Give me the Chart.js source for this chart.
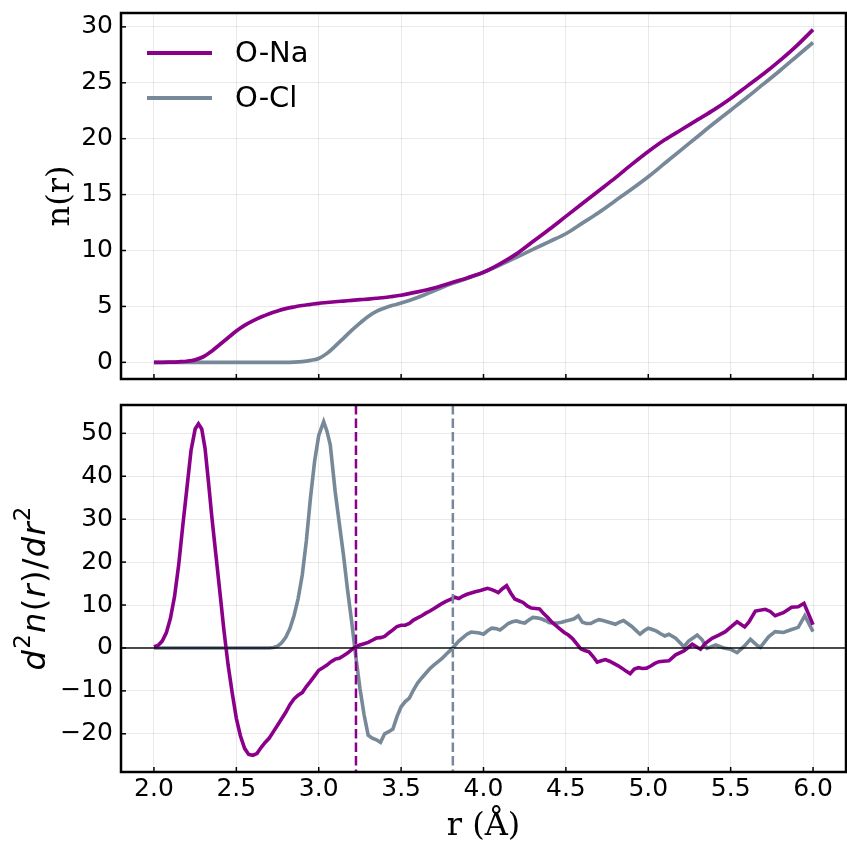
<!DOCTYPE html>
<html lang="en">
<head>
    <meta charset="UTF-8">
    <title>n(r) and d2n(r)/dr2</title>
    <script src="https://cdn.jsdelivr.net/npm/chart.js"></script>
    <style>
        body {
            margin: 0;
            background: #ffffff;
        }
        .wrap {
            position: relative;
            width: 847px;
            height: 846px;
        }
        .panel {
            position: absolute;
            left: 0;
            width: 847px;
        }
        #topPanel { top: 0; height: 395px; }
        #bottomPanel { top: 395px; height: 451px; }
    </style>
</head>
<body>
    <div class="wrap">
        <div class="panel" id="topPanel"><canvas id="nChart"></canvas></div>
        <div class="panel" id="bottomPanel"><canvas id="d2Chart"></canvas></div>
    </div>

    <script>
        // ---- data ----
        const seriesNames = ['O-Na', 'O-Cl'];

        // running coordination number n(r)
        const rTop = [2.0, 2.05, 2.1, 2.15, 2.2, 2.25, 2.3, 2.35, 2.4, 2.45, 2.5, 2.55, 2.6, 2.65, 2.7, 2.75,
            2.8, 2.85, 2.9, 2.95, 3.0, 3.05, 3.1, 3.15, 3.2, 3.25, 3.3, 3.35, 3.4, 3.45, 3.5,
            3.6, 3.7, 3.8, 3.9, 4.0, 4.1, 4.2, 4.3, 4.4, 4.5, 4.6, 4.7, 4.8, 4.9, 5.0,
            5.1, 5.2, 5.3, 5.4, 5.5, 5.6, 5.7, 5.8, 5.9, 6.0];
        const nNa = [0, 0, 0.02, 0.05, 0.1, 0.22, 0.5, 1.0, 1.6, 2.2, 2.8, 3.3, 3.7, 4.05, 4.35, 4.6,
            4.8, 4.95, 5.08, 5.18, 5.28, 5.35, 5.42, 5.48, 5.54, 5.6, 5.66, 5.73, 5.8, 5.9, 6.0,
            6.3, 6.65, 7.1, 7.55, 8.05, 8.8, 9.7, 10.8, 11.9, 13.05, 14.2, 15.35, 16.5, 17.7, 18.85,
            19.9, 20.8, 21.7, 22.6, 23.6, 24.7, 25.8, 27.0, 28.3, 29.75];
        const nCl = [0, 0, 0, 0, 0, 0, 0, 0, 0, 0, 0, 0, 0, 0, 0, 0,
            0, 0.02, 0.07, 0.18, 0.35, 0.8, 1.45, 2.15, 2.85, 3.5, 4.1, 4.55, 4.85, 5.1, 5.3,
            5.8, 6.4, 7.0, 7.5, 8.05, 8.7, 9.4, 10.1, 10.8, 11.5, 12.45, 13.4, 14.45, 15.5, 16.6,
            17.8, 19.0, 20.2, 21.4, 22.55, 23.7, 24.9, 26.1, 27.35, 28.6];

        // second derivative d2n/dr2
        const rNaD2 = [2.0, 2.025, 2.05, 2.075, 2.1, 2.125, 2.15, 2.175, 2.2, 2.225, 2.25, 2.27, 2.29, 2.31, 2.33,
            2.35, 2.375, 2.4, 2.425, 2.45, 2.475, 2.5, 2.525, 2.55, 2.575, 2.6, 2.625, 2.65, 2.675, 2.7,
            2.725, 2.75, 2.775, 2.8, 2.825, 2.85, 2.875, 2.9, 2.925, 2.95, 2.975, 3.0, 3.025, 3.05, 3.075,
            3.1, 3.125, 3.15, 3.175, 3.2, 3.225, 3.25, 3.275, 3.3, 3.325, 3.35, 3.375, 3.4, 3.425, 3.45,
            3.475, 3.5, 3.525, 3.55, 3.575, 3.6, 3.625, 3.65, 3.675, 3.7, 3.725, 3.75, 3.775, 3.8, 3.825,
            3.85, 3.875, 3.9, 3.925, 3.95, 3.975, 4.0, 4.025, 4.05, 4.075, 4.09, 4.115, 4.14, 4.165, 4.19,
            4.215, 4.24, 4.265, 4.29, 4.315, 4.34, 4.365, 4.39, 4.415, 4.44, 4.465, 4.49, 4.515, 4.54, 4.565,
            4.59, 4.615, 4.64, 4.665, 4.69, 4.715, 4.74, 4.765, 4.79, 4.815, 4.84, 4.865, 4.89, 4.915, 4.94,
            4.965, 4.99, 5.015, 5.04, 5.065, 5.09, 5.125, 5.166, 5.216, 5.267, 5.297, 5.317, 5.347, 5.387, 5.428,
            5.468, 5.498, 5.539, 5.585, 5.61, 5.65, 5.71, 5.74, 5.77, 5.82, 5.87, 5.91, 5.945, 6.0];
        const d2Na = [0.3, 0.6, 1.6, 3.5, 6.9, 12.0, 19.3, 28.5, 37.2, 46.0, 51.0, 52.2, 51.0, 46.5, 39.0,
            31.0, 22.0, 13.1, 4.0, -4.0, -10.5, -16.4, -20.5, -23.4, -24.8, -25.0, -24.6, -23.2, -22.0, -21.0,
            -19.5, -18.0, -16.5, -15.0, -13.2, -11.9, -11.0, -10.4, -9.0, -7.8, -6.5, -5.2, -4.6, -4.0, -3.2,
            -2.6, -2.4, -1.8, -1.2, -0.4, 0.3, 0.7, 1.0, 1.3, 1.8, 2.3, 2.4, 2.7, 3.5, 4.2,
            5.0, 5.3, 5.3, 5.7, 6.5, 7.0, 7.5, 8.1, 8.6, 9.2, 9.8, 10.4, 10.9, 11.3, 11.8,
            11.5, 12.1, 12.5, 12.8, 13.1, 13.3, 13.6, 13.9, 13.6, 13.2, 12.9, 13.8, 14.5, 12.8, 11.4,
            11.0, 10.6, 9.8, 9.3, 9.2, 9.1, 8.0, 7.1, 6.0, 5.2, 4.4, 3.6, 3.0, 2.2, 1.0,
            -0.2, -0.6, -0.9, -2.0, -3.3, -3.0, -2.7, -3.1, -3.6, -4.1, -4.7, -5.4, -6.0, -4.9, -4.6,
            -4.8, -4.7, -4.2, -3.6, -3.2, -3.1, -3.0, -1.6, -0.7, 0.85, 0.15, -0.3, 1.1, 2.25, 3.0,
            3.8, 4.8, 6.1, 4.9, 6.0, 8.6, 9.0, 8.5, 7.5, 8.2, 9.5, 9.6, 10.4, 5.4];

        const rClD2 = [2.0, 2.7, 2.725, 2.75, 2.775, 2.8, 2.825, 2.85, 2.875, 2.9, 2.925, 2.95, 2.975, 3.0, 3.03,
            3.05, 3.07, 3.1, 3.125, 3.15, 3.175, 3.2, 3.225, 3.25, 3.275, 3.3, 3.325, 3.35, 3.375, 3.4,
            3.425, 3.45, 3.475, 3.5, 3.525, 3.55, 3.575, 3.6, 3.625, 3.65, 3.675, 3.7, 3.725, 3.75, 3.775,
            3.8, 3.825, 3.85, 3.875, 3.9, 3.925, 3.95, 3.975, 4.0, 4.025, 4.05, 4.075, 4.1, 4.125, 4.15,
            4.175, 4.2, 4.225, 4.25, 4.275, 4.3, 4.325, 4.35, 4.375, 4.4, 4.425, 4.45, 4.475, 4.5, 4.525,
            4.55, 4.575, 4.6, 4.625, 4.65, 4.675, 4.7, 4.725, 4.75, 4.775, 4.8, 4.825, 4.85, 4.875, 4.9,
            4.925, 4.95, 4.975, 5.0, 5.025, 5.05, 5.075, 5.1, 5.125, 5.166, 5.216, 5.245, 5.297, 5.327, 5.357,
            5.41, 5.458, 5.498, 5.539, 5.58, 5.62, 5.66, 5.68, 5.73, 5.77, 5.82, 5.87, 5.91, 5.95, 6.0];
        const d2Cl = [0, 0, 0.1, 0.4, 1.2, 2.5, 4.5, 7.5, 11.5, 17.0, 25.0, 35.0, 43.5, 49.5, 52.7,
            50.5, 47.3, 36.4, 29.0, 21.7, 13.5, 6.1, -2.0, -9.4, -15.5, -20.3, -21.0, -21.4, -22.0, -20.0,
            -19.5, -18.9, -16.0, -13.7, -12.5, -11.7, -9.8, -8.2, -7.0, -5.9, -4.8, -3.95, -3.2, -2.4, -1.4,
            -0.5, 0.5, 1.6, 2.4, 3.2, 3.7, 3.6, 3.5, 3.2, 4.0, 4.6, 4.5, 4.2, 4.9, 5.7,
            6.1, 6.3, 6.0, 5.8, 6.5, 7.1, 7.0, 6.8, 6.4, 5.9, 5.8, 5.8, 6.0, 6.3, 6.5,
            6.8, 7.5, 6.0, 5.7, 5.7, 6.2, 6.6, 6.4, 6.1, 5.8, 5.5, 6.0, 6.4, 5.7, 5.0,
            4.1, 3.2, 4.0, 4.6, 4.3, 3.9, 3.3, 2.8, 3.2, 2.25, 0.3, 1.6, 3.0, 1.9, -0.1,
            0.7, 0.0, -0.3, -1.1, 0.3, 2.0, 0.6, 0.15, 2.6, 3.8, 3.6, 4.3, 4.8, 7.5, 3.8];

        // shell cut-offs (zero crossings of d2n/dr2), O-Na then O-Cl
        const cutoffs = [3.226, 3.814];

        const rTicks = [2.0, 2.5, 3.0, 3.5, 4.0, 4.5, 5.0, 5.5, 6.0];
        const nTicks = [0, 5, 10, 15, 20, 25, 30];
        const d2Ticks = [-20, -10, 0, 10, 20, 30, 40, 50];

        // ---- styling ----
        const colors = ['#8b008b', '#778899'];
        const tickFont = { family: 'DejaVu Sans', size: 25 };
        const gridColor = 'rgba(0, 0, 0, 0.085)';

        function toPoints(xs, ys) {
            return xs.map((x, i) => ({ x: x, y: ys[i] }));
        }

        function minusSign(v) {
            return String(v).replace('-', '\u2212');
        }

        // keep the plot area where it is, whatever the tick labels want
        function noPadding(s) {
            s.paddingTop = 0;
            s.paddingBottom = 0;
            s.paddingLeft = 0;
            s.paddingRight = 0;
        }

        // d^2 n(r) / dr^2 written with real superscripts, rotated
        function drawMathLabel(ctx, x, y) {
            const big = 32, small = 23, raise = 15, gap = 1.3;
            const parts = [
                ['d', 'italic', big, 0], ['2', 'normal', small, raise], ['n', 'italic', big, 0],
                ['(', 'normal', big, 0], ['r', 'italic', big, 0], [')', 'normal', big, 0],
                ['/', 'normal', big, 0], ['d', 'italic', big, 0], ['r', 'italic', big, 0],
                ['2', 'normal', small, raise]
            ];
            const fontOf = p => p[1] + ' ' + p[2] + 'px "DejaVu Sans"';
            let total = 0;
            parts.forEach(p => {
                ctx.font = fontOf(p);
                total += ctx.measureText(p[0]).width + gap;
            });
            total -= gap;
            ctx.save();
            ctx.translate(x, y);
            ctx.rotate(-Math.PI / 2);
            ctx.fillStyle = '#000';
            ctx.textBaseline = 'alphabetic';
            let cx = -total / 2;
            parts.forEach(p => {
                ctx.font = fontOf(p);
                ctx.fillText(p[0], cx, -p[3]);
                cx += ctx.measureText(p[0]).width + gap;
            });
            ctx.restore();
        }

        // frame, inward ticks, zero line, cut-off lines and legend
        const decorPlugin = {
            id: 'decor',
            afterDatasetsDraw(chart, args, opts) {
                const { ctx, chartArea: a, scales } = chart;
                ctx.save();
                ctx.beginPath();
                ctx.rect(a.left, a.top, a.width, a.height);
                ctx.clip();
                if (opts.zeroLine) {
                    const y0 = scales.y.getPixelForValue(0);
                    ctx.strokeStyle = 'rgba(0, 0, 0, 0.7)';
                    ctx.lineWidth = 2;
                    ctx.beginPath();
                    ctx.moveTo(a.left, y0);
                    ctx.lineTo(a.right, y0);
                    ctx.stroke();
                }
                if (opts.cutoffs) {
                    ctx.lineWidth = 2.5;
                    ctx.setLineDash([9.5, 4]);
                    opts.cutoffs.forEach((r, i) => {
                        const x = scales.x.getPixelForValue(r);
                        ctx.strokeStyle = colors[i];
                        ctx.beginPath();
                        ctx.moveTo(x, a.top);
                        ctx.lineTo(x, a.bottom);
                        ctx.stroke();
                    });
                }
                ctx.restore();
            },
            afterDraw(chart, args, opts) {
                const { ctx, chartArea: a, scales } = chart;
                ctx.save();
                ctx.strokeStyle = '#000';
                ctx.lineWidth = 1.5;
                scales.x.ticks.forEach(t => {
                    const x = scales.x.getPixelForValue(t.value);
                    ctx.beginPath();
                    ctx.moveTo(x, a.bottom);
                    ctx.lineTo(x, a.bottom - 5);
                    ctx.stroke();
                });
                scales.y.ticks.forEach(t => {
                    const y = scales.y.getPixelForValue(t.value);
                    ctx.beginPath();
                    ctx.moveTo(a.left, y);
                    ctx.lineTo(a.left + 5, y);
                    ctx.stroke();
                });
                ctx.lineWidth = 2.5;
                ctx.strokeRect(a.left, a.top, a.width, a.height);

                if (opts.legend) {
                    ctx.font = '29px "DejaVu Sans"';
                    ctx.textBaseline = 'middle';
                    ctx.fillStyle = '#000';
                    chart.data.datasets.forEach((ds, i) => {
                        const y = a.top + 40 + i * 45;
                        ctx.strokeStyle = ds.borderColor;
                        ctx.lineWidth = 4;
                        ctx.beginPath();
                        ctx.moveTo(a.left + 26, y);
                        ctx.lineTo(a.left + 91, y);
                        ctx.stroke();
                        ctx.fillText(ds.label, a.left + 114, y + 1);
                    });
                }
                if (opts.mathLabel) {
                    drawMathLabel(ctx, 45, (a.top + a.bottom) / 2);
                }
                ctx.restore();
            }
        };

        new Chart(document.getElementById('nChart'), {
            type: 'line',
            data: {
                datasets: [
                    { label: seriesNames[0], data: toPoints(rTop, nNa), borderColor: colors[0] },
                    { label: seriesNames[1], data: toPoints(rTop, nCl), borderColor: colors[1] }
                ]
            },
            options: {
                responsive: true,
                maintainAspectRatio: false,
                animation: false,
                layout: { padding: { top: 13, right: 1, left: 0, bottom: 0 } },
                elements: {
                    point: { radius: 0 },
                    line: { borderWidth: 3.7, cubicInterpolationMode: 'monotone' }
                },
                plugins: {
                    legend: { display: false },
                    tooltip: { enabled: false },
                    decor: { legend: true }
                },
                scales: {
                    x: {
                        type: 'linear',
                        min: 1.8,
                        max: 6.2,
                        afterBuildTicks: s => { s.ticks = rTicks.map(v => ({ value: v })); },
                        afterFit: s => { s.height = 16; noPadding(s); },
                        ticks: { display: false },
                        grid: { color: gridColor, drawTicks: false },
                        border: { display: false }
                    },
                    y: {
                        type: 'linear',
                        min: -1.49,
                        max: 31.24,
                        afterBuildTicks: s => { s.ticks = nTicks.map(v => ({ value: v })); },
                        afterFit: s => { s.width = 121; noPadding(s); },
                        ticks: { font: tickFont, color: '#000', padding: 8 },
                        grid: { color: gridColor, drawTicks: false },
                        border: { display: false },
                        title: {
                            display: true,
                            text: 'n(r)',
                            color: '#000',
                            font: { family: 'DejaVu Serif', size: 32 },
                            padding: { top: 41, bottom: 0 }
                        }
                    }
                }
            },
            plugins: [decorPlugin]
        });

        new Chart(document.getElementById('d2Chart'), {
            type: 'line',
            data: {
                datasets: [
                    { label: seriesNames[0], data: toPoints(rNaD2, d2Na), borderColor: colors[0] },
                    { label: seriesNames[1], data: toPoints(rClD2, d2Cl), borderColor: colors[1] }
                ]
            },
            options: {
                responsive: true,
                maintainAspectRatio: false,
                animation: false,
                layout: { padding: { top: 10, right: 1, left: 0, bottom: 0 } },
                elements: {
                    point: { radius: 0 },
                    line: { borderWidth: 3.6, tension: 0 }
                },
                plugins: {
                    legend: { display: false },
                    tooltip: { enabled: false },
                    decor: { zeroLine: true, cutoffs: cutoffs, mathLabel: true }
                },
                scales: {
                    x: {
                        type: 'linear',
                        min: 1.8,
                        max: 6.2,
                        afterBuildTicks: s => { s.ticks = rTicks.map(v => ({ value: v })); },
                        afterFit: s => { s.height = 74; noPadding(s); },
                        ticks: {
                            font: tickFont,
                            color: '#000',
                            padding: 2,
                            maxRotation: 0,
                            callback: v => v.toFixed(1)
                        },
                        grid: { color: gridColor, drawTicks: false },
                        border: { display: false },
                        title: {
                            display: true,
                            text: 'r (\u00c5)',
                            color: '#000',
                            font: { family: 'DejaVu Serif', size: 32 },
                            padding: { top: 0, bottom: 0 }
                        }
                    },
                    y: {
                        type: 'linear',
                        min: -28.9,
                        max: 56.6,
                        afterBuildTicks: s => { s.ticks = d2Ticks.map(v => ({ value: v })); },
                        afterFit: s => { s.width = 121; noPadding(s); },
                        ticks: {
                            font: tickFont,
                            color: '#000',
                            padding: 8,
                            callback: v => minusSign(v)
                        },
                        grid: { color: gridColor, drawTicks: false },
                        border: { display: false },
                        title: { display: false }
                    }
                }
            },
            plugins: [decorPlugin]
        });
    </script>
</body>
</html>
